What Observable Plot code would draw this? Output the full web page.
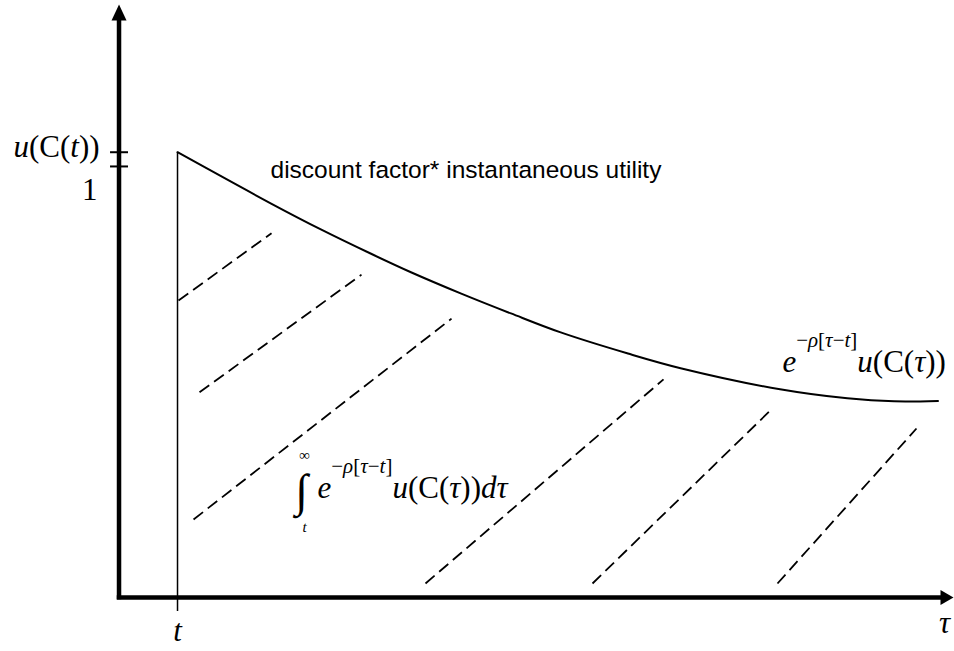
<!DOCTYPE html>
<html>
<head>
<meta charset="utf-8">
<script src="https://cdn.jsdelivr.net/npm/d3@7"></script>
<script src="https://cdn.jsdelivr.net/npm/@observablehq/plot@0.6"></script>
<style>
  html, body { margin: 0; padding: 0; background: #fff; overflow: hidden; }
</style>
</head>
<body>
<div id="chart"></div>
<script>
// Discounted instantaneous utility e^{-ρ[τ-t]} u(C(τ)) along the time axis τ
const tau = [1, 2.6, 3.45, 4.3, 5, 5.85, 6.7, 7.55, 8.7, 9.6, 11.3, 12.45, 13.25, 14.0];
const discountedUtility = [1.033, 0.914, 0.854, 0.798, 0.754, 0.705, 0.659, 0.615, 0.566, 0.532, 0.483, 0.462, 0.455, 0.456];

// the starting moment t and the utility there
const tStart = 1;
const uAtStart = 1.033;
const yTickValues = [uAtStart, 1];
const yTickLabels = ["u(C(t))", "1"];
const xTickLabels = ["t", "τ"];

// dashed hatching of the area under the curve (segment ends)
const hatchX1 = [1.017, 1.376, 1.274, 5.239, 8.094, 11.256];
const hatchY1 = [0.689, 0.476, 0.181, 0.0325, 0.0325, 0.0325];
const hatchX2 = [2.607, 4.145, 5.684, 9.308, 11.12, 13.632];
const hatchY2 = [0.845, 0.749, 0.647, 0.506, 0.432, 0.392];

// annotations
const curveNote = "discount factor* instantaneous utility";
const curveFormula = "e−ρ[τ−t]u(C(τ))";
const integrandFormula = "e−ρ[τ−t]u(C(τ))dτ";

const curveData = tau.map((x, i) => ({tau: x, u: discountedUtility[i]}));
const hatchData = hatchX1.map((x, i) => ({x1: x, y1: hatchY1[i], x2: hatchX2[i], y2: hatchY2[i]}));

// filled arrowheads, tip at the symbol origin
const arrowUp = {draw(ctx) { ctx.moveTo(0, 0); ctx.lineTo(-7.5, 16); ctx.lineTo(7.5, 16); ctx.closePath(); }};
const arrowRight = {draw(ctx) { ctx.moveTo(0, 0); ctx.lineTo(-13, -7.5); ctx.lineTo(-13, 7.5); ctx.closePath(); }};

const serif = "'Liberation Serif', 'Times New Roman', serif";
const sans = "'Liberation Sans', Arial, sans-serif";

const xMax = 14.265, yMax = 1.376;

const chart = Plot.plot({
  width: 954,
  height: 651,
  margin: 0,
  x: {domain: [-2.026, 14.282], axis: null},
  y: {domain: [-0.1253, 1.385], axis: null},
  style: {background: "white", overflow: "visible"},
  marks: [
    // hatching
    Plot.link(hatchData, {x1: "x1", y1: "y1", x2: "x2", y2: "y2", stroke: "black", strokeWidth: 1.8, strokeDasharray: "12,6"}),
    // vertical line at t
    Plot.ruleX([tStart], {y1: -0.0325, y2: uAtStart, stroke: "black", strokeWidth: 1.5}),
    // discounted utility curve
    Plot.line(curveData, {x: "tau", y: "u", stroke: "black", strokeWidth: 2, curve: "catmull-rom"}),
    // axes
    Plot.ruleY([0], {x1: -0.03, x2: xMax - 0.2, stroke: "black", strokeWidth: 4.5}),
    Plot.ruleX([0], {y1: -0.005, y2: yMax - 0.035, stroke: "black", strokeWidth: 4.5}),
    Plot.dot([{x: xMax, y: 0}], {x: "x", y: "y", symbol: arrowRight, fill: "black", stroke: "none", r: 5}),
    Plot.dot([{x: 0, y: yMax}], {x: "x", y: "y", symbol: arrowUp, fill: "black", stroke: "none", r: 5}),
    // y ticks
    Plot.ruleY(yTickValues, {x1: -0.145, x2: 0.162, stroke: "black", strokeWidth: 2}),
    // y tick labels
    Plot.text([yTickLabels[0]], {x: -0.333, y: yTickValues[0], dy: 5, text: d => d, textAnchor: "end", lineAnchor: "bottom", fontFamily: serif, fontSize: 31, fill: "black"}),
    Plot.text([yTickLabels[1]], {x: -0.368, y: yTickValues[1], dy: 34, text: d => d, textAnchor: "end", lineAnchor: "bottom", fontFamily: serif, fontSize: 31, fill: "black"}),
    // x labels
    Plot.text([xTickLabels[0]], {x: tStart, y: 0, dy: 44, text: d => d, textAnchor: "middle", lineAnchor: "bottom", fontFamily: serif, fontStyle: "italic", fontSize: 31, fill: "black"}),
    Plot.text([xTickLabels[1]], {x: 14.11, y: 0, dy: 36, text: d => d, textAnchor: "middle", lineAnchor: "bottom", fontFamily: serif, fontStyle: "italic", fontSize: 31, fill: "black"}),
    // annotations
    Plot.text([curveNote], {x: 2.59, y: 0.974, text: d => d, textAnchor: "start", lineAnchor: "bottom", fontFamily: sans, fontSize: 24.5, fill: "black"}),
    Plot.text([curveFormula], {x: 11.34, y: 0.522, text: d => d, textAnchor: "start", lineAnchor: "bottom", fontFamily: serif, fontSize: 31, fill: "black"}),
    Plot.text(["∫"], {x: 3.12, y: 0.2297, dy: 8, text: d => d, textAnchor: "middle", lineAnchor: "bottom", fontFamily: serif, fontSize: 46, fill: "black"}),
    Plot.text(["∞"], {x: 3.171, y: 0.32, text: d => d, textAnchor: "middle", lineAnchor: "bottom", fontFamily: serif, fontSize: 15, fill: "black"}),
    Plot.text(["t"], {x: 3.171, y: 0.153, text: d => d, textAnchor: "middle", lineAnchor: "bottom", fontFamily: serif, fontStyle: "italic", fontSize: 15, fill: "black"}),
    Plot.text([integrandFormula], {x: 3.393, y: 0.2297, text: d => d, textAnchor: "start", lineAnchor: "bottom", fontFamily: serif, fontSize: 31, fill: "black"})
  ]
});

document.getElementById("chart").appendChild(chart);

// mixed italic / upright pieces and superscripts inside the formula labels
const exponent = [
  {s: "−", sup: 1}, {s: "ρ", sup: 1, i: 1}, {s: "[", sup: 1}, {s: "τ", sup: 1, i: 1},
  {s: "−", sup: 1}, {s: "t", sup: 1, i: 1}, {s: "]", sup: 1}
];
const richParts = {
  "u(C(t))": [{s: "u", i: 1}, {s: "(C("}, {s: "t", i: 1}, {s: "))"}],
  [curveFormula]: [{s: "e", i: 1}, ...exponent, {s: "u", i: 1}, {s: "(C("}, {s: "τ", i: 1}, {s: "))"}],
  [integrandFormula]: [{s: "e", i: 1}, ...exponent, {s: "u", i: 1}, {s: "(C("}, {s: "τ", i: 1}, {s: "))"}, {s: "d", i: 1}, {s: "τ", i: 1}]
};
const supSize = 21, supRaise = 25;
const ns = "http://www.w3.org/2000/svg";
for (const el of chart.querySelectorAll("text")) {
  const parts = richParts[el.textContent];
  if (!parts) continue;
  el.textContent = "";
  let shift = 0;
  for (const p of parts) {
    const ts = document.createElementNS(ns, "tspan");
    ts.textContent = p.s;
    if (p.i) ts.setAttribute("font-style", "italic");
    if (p.sup) ts.setAttribute("font-size", supSize);
    const target = p.sup ? -supRaise : 0;
    if (target !== shift) { ts.setAttribute("dy", target - shift); shift = target; }
    el.appendChild(ts);
  }
}
</script>
</body>
</html>
